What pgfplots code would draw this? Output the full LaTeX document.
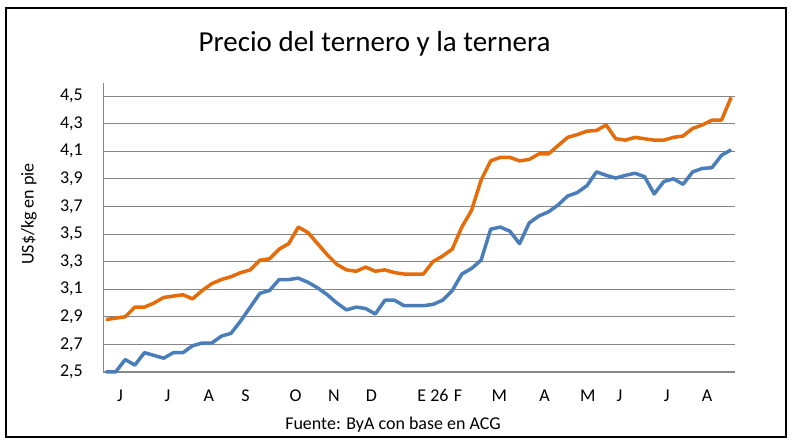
\documentclass[border=0pt]{standalone}
\usepackage{fontspec}
\setmainfont{Carlito}
\usepackage{pgfplots}
\pgfplotsset{compat=1.18}
\definecolor{orangeL}{RGB}{228,108,10}
\definecolor{blueL}{RGB}{74,126,187}
\definecolor{gridg}{RGB}{134,134,134}
\begin{document}
\begin{tikzpicture}
\useasboundingbox (0,0) rectangle (792pt,446pt);
\fill[white] (0,0) rectangle (792pt,446pt);
\begin{axis}[
  at={(103pt,74pt)}, anchor=south west, scale only axis,
  width=632pt, height=289pt,
  xmin=-0.31, xmax=65.4, ymin=2.5, ymax=4.594,
  axis x line=bottom, axis y line=left,
  x axis line style={-, draw=gridg, line width=2pt},
  y axis line style={-, draw=gridg, line width=0.9pt},
  ytick={2.5,2.7,2.9,3.1,3.3,3.5,3.7,3.9,4.1,4.3,4.5},
  yticklabels={{2,5},{2,7},{2,9},{3,1},{3,3},{3,5},{3,7},{3,9},{4,1},{4,3},{4,5}},
  xtick={1.46,6.4,10.7,14.5,19.7,23.7,27.6,34.0,36.6,40.9,45.6,50.1,53.4,58.3,62.5},
  xticklabels={J,J,A,S,O,N,D,E 26,F,M,A,M,J,J,A},
  ymajorgrids, grid style={gridg, line width=0.9pt},
  major tick length=0pt,
  tick label style={font=\fontsize{18}{20}\selectfont, text=black},
  yticklabel style={anchor=east, inner sep=0pt, xshift=-20pt},
  xticklabel style={anchor=base, inner sep=0pt, yshift=-30pt},
  clip=false,
]
\addplot[orangeL, line width=3.5pt, line join=round] coordinates {
(0,2.88)(1,2.89)(2,2.90)(3,2.97)(4,2.97)(5,3.00)(6,3.04)(7,3.05)(8,3.06)(9,3.03)
(10,3.09)(11,3.14)(12,3.17)(13,3.19)(14,3.22)(15,3.24)(16,3.31)(17,3.32)(18,3.39)(19,3.43)
(20,3.55)(21,3.51)(22,3.43)(23,3.35)(24,3.28)(25,3.24)(26,3.23)(27,3.26)(28,3.23)(29,3.24)
(30,3.22)(31,3.21)(32,3.21)(33,3.21)(34,3.30)(35,3.34)(36,3.39)(37,3.55)(38,3.67)(39,3.89)
(40,4.03)(41,4.055)(42,4.055)(43,4.03)(44,4.04)(45,4.08)(46,4.08)(47,4.14)(48,4.20)(49,4.22)
(50,4.245)(51,4.25)(52,4.29)(53,4.19)(54,4.18)(55,4.20)(56,4.19)(57,4.18)(58,4.18)(59,4.20)
(60,4.21)(61,4.265)(62,4.29)(63,4.325)(64,4.325)(65,4.49)
};
\addplot[blueL, line width=3.5pt, line join=round] coordinates {
(0,2.50)(1,2.50)(2,2.59)(3,2.55)(4,2.64)(5,2.62)(6,2.60)(7,2.64)(8,2.64)(9,2.69)
(10,2.71)(11,2.71)(12,2.76)(13,2.78)(14,2.87)(15,2.97)(16,3.07)(17,3.09)(18,3.17)(19,3.17)
(20,3.18)(21,3.15)(22,3.11)(23,3.06)(24,3.00)(25,2.95)(26,2.97)(27,2.96)(28,2.92)(29,3.02)
(30,3.02)(31,2.98)(32,2.98)(33,2.98)(34,2.99)(35,3.02)(36,3.09)(37,3.21)(38,3.25)(39,3.31)
(40,3.535)(41,3.55)(42,3.52)(43,3.43)(44,3.58)(45,3.63)(46,3.66)(47,3.71)(48,3.775)(49,3.80)
(50,3.85)(51,3.95)(52,3.925)(53,3.905)(54,3.925)(55,3.94)(56,3.915)(57,3.79)(58,3.88)(59,3.90)
(60,3.86)(61,3.95)(62,3.975)(63,3.98)(64,4.07)(65,4.11)
};
\end{axis}
\node[anchor=base, font=\fontsize{29}{31}\selectfont] at (374.5pt,394.3pt) {Precio del ternero y la ternera};
\node[rotate=90, font=\fontsize{18}{20}\selectfont] at (29pt,232pt) {US\$/kg en pie};
\node[anchor=base, font=\fontsize{18}{20}\selectfont] at (393pt,16pt) {Fuente: ByA con base en ACG};
\draw[line width=2pt] (6pt,9pt) rectangle (786pt,438pt);
\end{tikzpicture}
\end{document}
